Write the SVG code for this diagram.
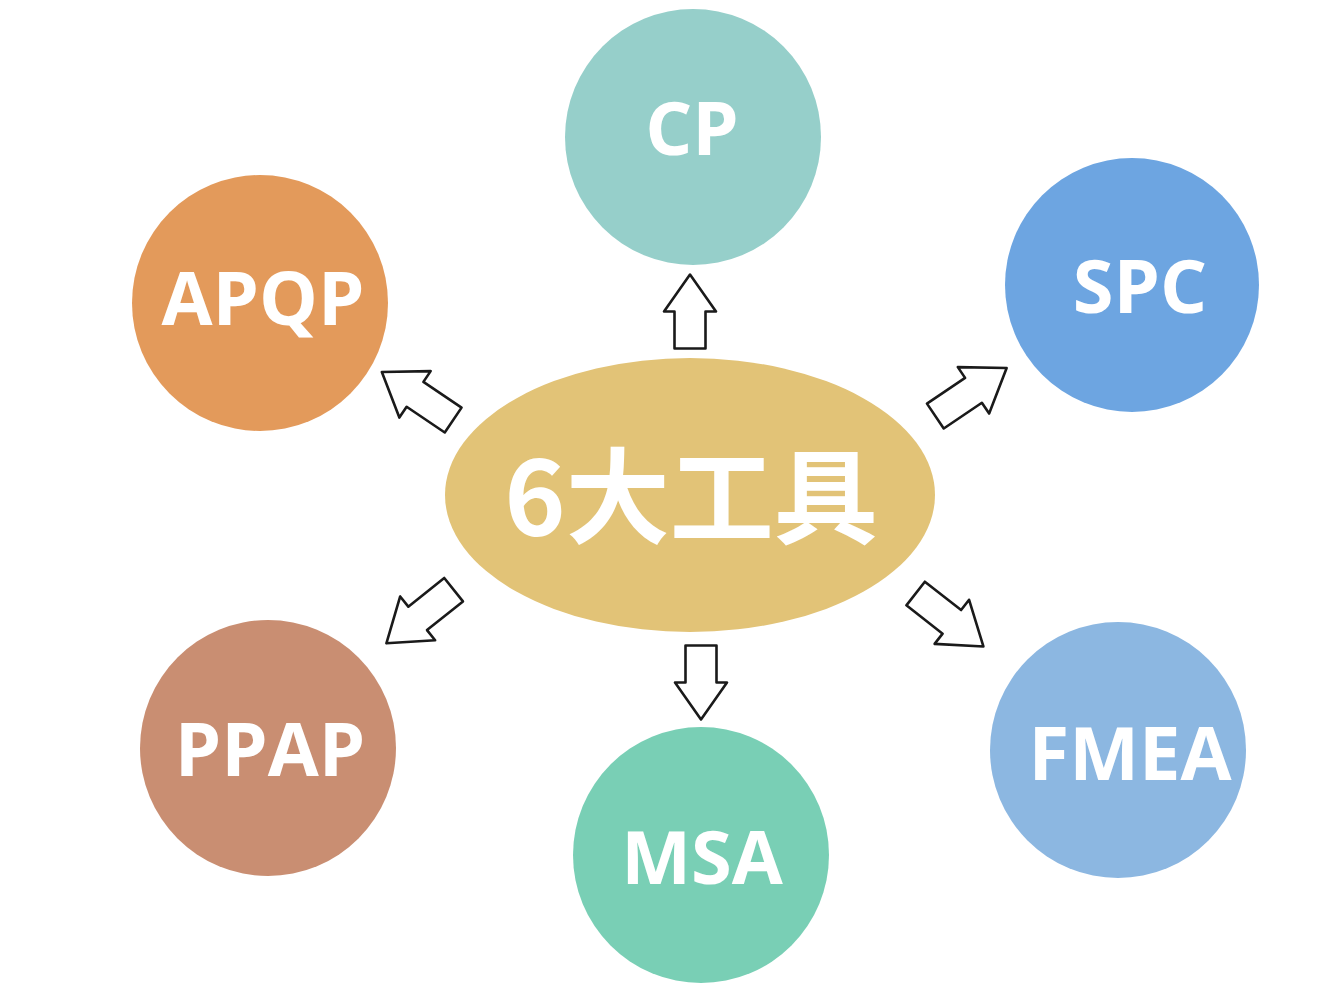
<svg xmlns="http://www.w3.org/2000/svg" width="1326" height="1002" viewBox="0 0 1326 1002">
<style>
.lbl{font-family:"Open Sans","Noto Sans","Liberation Sans",sans-serif;font-weight:700;fill:#fff;text-anchor:middle;font-size:74px}
.arr{fill:#fff;stroke:#1a1a1a;stroke-width:2.6;stroke-linejoin:round}
</style>
<defs>
<path id="a1" d="M37,0 L0,-26 L0,-15.5 L-37,-15.5 L-37,15.5 L0,15.5 L0,26 Z"/>
<path id="a2" d="M43,0 L3,-28 L3,-15 L-43,-15 L-43,15 L3,15 L3,28 Z"/>
</defs>
<rect width="1326" height="1002" fill="#fff"/>
<g id="connectors">
<use href="#a1" class="arr" transform="translate(690,311.5) rotate(-90)"/>
<use href="#a1" class="arr" transform="translate(701,682.5) rotate(90)"/>
<use href="#a2" class="arr" transform="translate(417.5,396) rotate(-146)"/>
<use href="#a2" class="arr" transform="translate(971,392) rotate(-34)"/>
<use href="#a2" class="arr" transform="translate(420,616.5) rotate(141.4)"/>
<use href="#a2" class="arr" transform="translate(949.5,620) rotate(38)"/>
</g>
<g id="center">
<ellipse cx="690" cy="495" rx="245" ry="137" fill="#e2c377"/>
<text x="691" y="536" font-family="'Noto Sans CJK SC',sans-serif" font-weight="700" font-size="104" fill="#fff" text-anchor="middle">6大工具</text>
</g>
<g id="cp"><circle cx="693" cy="137" r="128" fill="#96cfca"/><text class="lbl" x="692" y="155">CP</text></g>
<g id="spc"><circle cx="1132" cy="285" r="127" fill="#6da5e1"/><text class="lbl" x="1140" y="313">SPC</text></g>
<g id="apqp"><circle cx="260" cy="303" r="128" fill="#e39a5b"/><text class="lbl" x="263" y="325">APQP</text></g>
<g id="ppap"><circle cx="268" cy="748" r="128" fill="#c98e72"/><text class="lbl" x="270" y="776">PPAP</text></g>
<g id="msa"><circle cx="701" cy="855" r="128" fill="#79cfb5"/><text class="lbl" x="702" y="884">MSA</text></g>
<g id="fmea"><circle cx="1118" cy="750" r="128" fill="#8cb7e1"/><text class="lbl" x="1130" y="780">FMEA</text></g>
</svg>
